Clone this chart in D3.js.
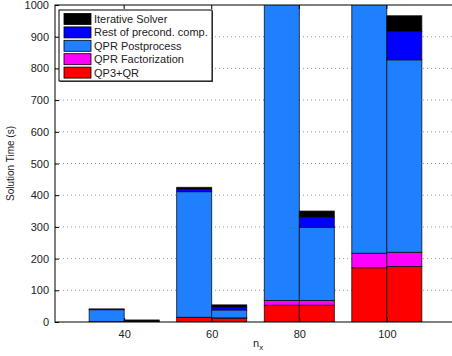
<!DOCTYPE html>
<html>
<head>
<meta charset="utf-8">
<script src="https://cdn.jsdelivr.net/npm/d3@7"></script>
<style>
  body { margin: 0; background: #fff; }
  text { font-family: "Liberation Sans", Arial, sans-serif; fill: #222; }
</style>
</head>
<body>
<div id="chart"></div>
<script>
// problem sizes on the x axis
const nx = [40, 60, 80, 100];
// each entry: [first bar, second bar] for that n_x
const qp3qr        = [[0.5, 0.3], [14, 12], [53, 53], [171, 175]];
const qprFactor    = [[0.3, 0.1], [1, 1],   [15, 15], [46, 45]];
const qprPost      = [[38, 1],    [396, 25], [1400, 231], [1100, 607]];
const restPrecond  = [[1, 1],     [8, 9],   [60, 32], [90, 89]];
const iterSolver   = [[1.5, 4],   [6, 7],   [40, 19], [60, 50]];

const seriesNames = ["QP3+QR", "QPR Factorization", "QPR Postprocess", "Rest of precond. comp.", "Iterative Solver"];
const seriesData = [qp3qr, qprFactor, qprPost, restPrecond, iterSolver];
const colors = ["#ff0000", "#ff00ff", "#1e80ff", "#0000ff", "#000000"];
const yTicks = [0, 100, 200, 300, 400, 500, 600, 700, 800, 900, 1000];

const W = 452, H = 356;
const mLeft = 55, mRight = 456, mTop = 5, mBottom = 322;

const svg = d3.select("#chart").append("svg")
    .attr("width", W).attr("height", H);

const x = d3.scaleLinear().domain([0.21, 4.79]).range([mLeft, mRight]);
const y = d3.scaleLinear().domain([0, 1000]).range([mBottom, mTop]);

// one row per bar
const rows = [];
nx.forEach((n, i) => {
    [0, 1].forEach(b => {
        const r = {pos: i + 1 + (b === 0 ? -0.2 : 0.2)};
        seriesNames.forEach((s, k) => r[s] = seriesData[k][i][b]);
        rows.push(r);
    });
});
const stacked = d3.stack().keys(seriesNames)(rows);

svg.append("clipPath").attr("id", "plotclip")
    .append("rect").attr("x", mLeft).attr("y", mTop)
    .attr("width", mRight - mLeft).attr("height", mBottom - mTop);

// grid
svg.append("g").selectAll("line")
    .data(yTicks.filter(t => t > 0 && t < 1000))
    .enter().append("line")
    .attr("x1", mLeft).attr("x2", mRight)
    .attr("y1", d => y(d)).attr("y2", d => y(d))
    .attr("stroke", "#999").attr("stroke-width", 1)
    .attr("stroke-dasharray", "1,3");

// bars
const barW = x(1.4) - x(1);
svg.append("g").attr("clip-path", "url(#plotclip)")
    .selectAll("g")
    .data(stacked)
    .enter().append("g")
    .attr("fill", (d, k) => colors[k])
    .selectAll("rect")
    .data(d => d)
    .enter().append("rect")
    .attr("x", d => x(d.data.pos) - barW / 2)
    .attr("width", barW)
    .attr("y", d => y(d[1]))
    .attr("height", d => y(d[0]) - y(d[1]))
    .attr("stroke", "#111")
    .attr("stroke-width", 0.8);

// axes box
svg.append("rect").attr("x", mLeft).attr("y", mTop)
    .attr("width", mRight - mLeft).attr("height", mBottom - mTop)
    .attr("fill", "none").attr("stroke", "#000").attr("stroke-width", 1);

const leftAxis = svg.append("g").attr("transform", "translate(" + mLeft + ",0)")
    .call(d3.axisLeft(y).tickValues(yTicks).tickFormat(d3.format("d")).tickSize(-4).tickPadding(6));
leftAxis.select(".domain").remove();
leftAxis.selectAll("text").style("font-size", "11px").attr("fill", "#222");

const bottomAxis = svg.append("g").attr("transform", "translate(0," + mBottom + ")")
    .call(d3.axisBottom(x).tickValues([1, 2, 3, 4]).tickFormat((d, i) => nx[i]).tickSize(-4).tickPadding(8));
bottomAxis.select(".domain").remove();
bottomAxis.selectAll("text").style("font-size", "11px").attr("fill", "#222");

// mirrored ticks on top
svg.append("g").selectAll("line").data([1, 2, 3, 4]).enter().append("line")
    .attr("x1", d => x(d)).attr("x2", d => x(d))
    .attr("y1", mTop).attr("y2", mTop + 4).attr("stroke", "#000");

// axis labels
svg.append("text")
    .attr("transform", "translate(14," + ((mTop + mBottom) / 2) + ") rotate(-90)")
    .attr("text-anchor", "middle").style("font-size", "10px")
    .text("Solution Time (s)");

const xl = svg.append("text").attr("x", 253).attr("y", 347).style("font-size", "11px");
xl.append("tspan").text("n");
xl.append("tspan").attr("dy", 3).style("font-size", "8px").text("x");

// legend
const lg = svg.append("g").attr("transform", "translate(59,10)");
lg.append("rect").attr("x", 1).attr("y", 1).attr("width", 153).attr("height", 71).attr("fill", "#555");
lg.append("rect").attr("width", 153).attr("height", 71)
    .attr("fill", "#fff").attr("stroke", "#000").attr("stroke-width", 1);
const order = [4, 3, 2, 1, 0];
order.forEach((k, j) => {
    const cy = 9 + j * 13.4;
    lg.append("rect").attr("x", 5).attr("y", cy - 5.5).attr("width", 27).attr("height", 11)
        .attr("fill", colors[k]).attr("stroke", "#000").attr("stroke-width", 0.8);
    lg.append("text").attr("x", 35).attr("y", cy + 4).style("font-size", "11px")
        .text(seriesNames[k]);
});
</script>
</body>
</html>
